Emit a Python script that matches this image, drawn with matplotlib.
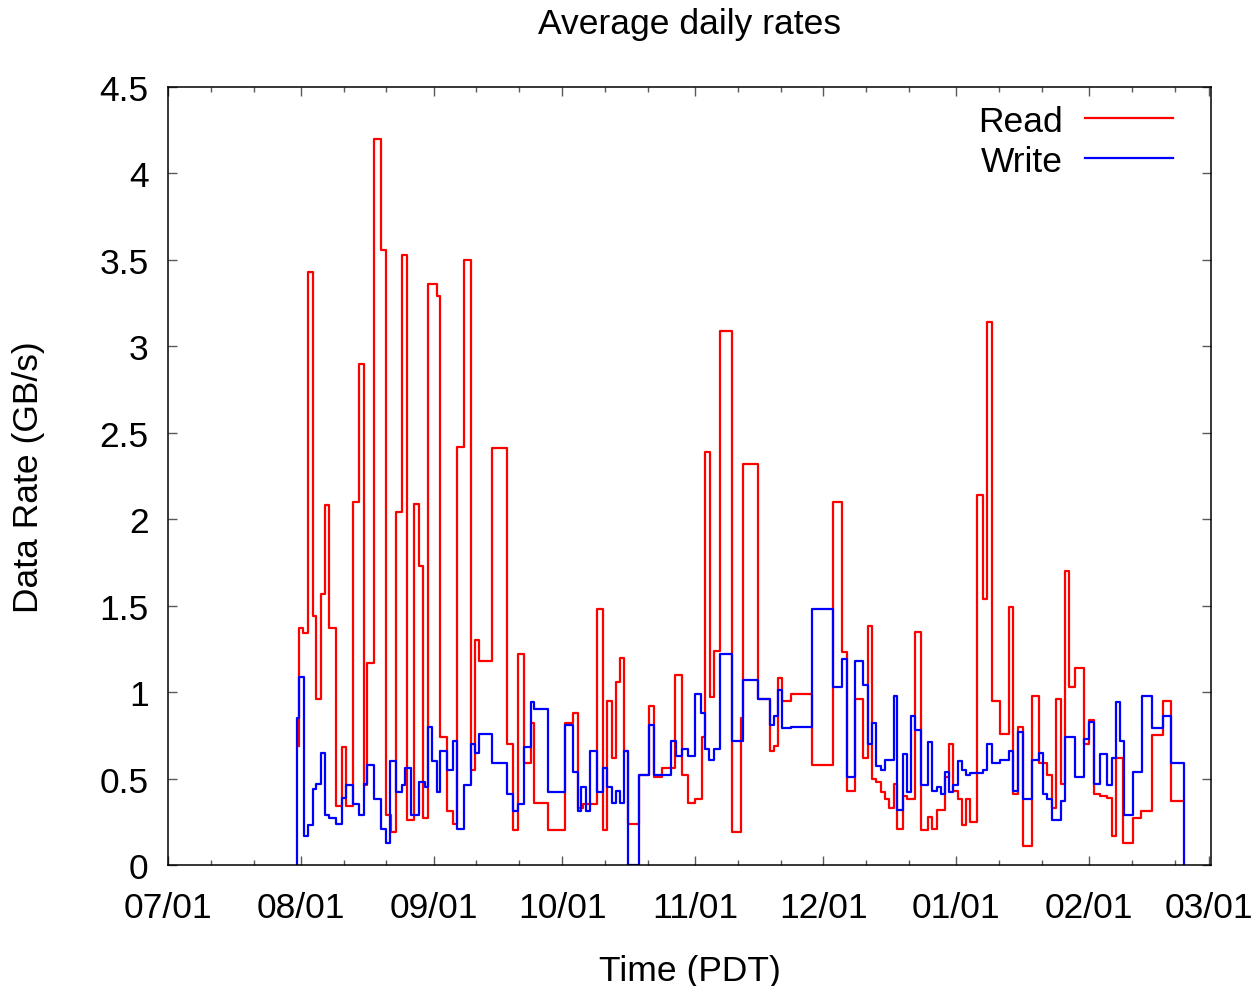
import numpy as np
import matplotlib
matplotlib.use("Agg")
import matplotlib.pyplot as plt
import matplotlib.dates as mdates
import matplotlib.ticker as mticker
from datetime import datetime

# ---- data (days after 07/01, value in GB/s; value holds until next day entry) ----
start_date = datetime(2013, 7, 1)

read_day = [30.50, 30.58, 31.59, 32.60, 33.77, 34.55, 35.71, 36.65, 37.66, 39.14,
            40.69, 41.63, 43.26, 44.58, 45.75, 46.53, 48.09, 49.72, 50.89, 52.05,
            53.22, 54.54, 55.87, 57.50, 58.67, 59.60, 60.77, 62.71, 63.60, 65.05,
            66.60, 67.54, 69.17, 70.73, 71.66, 72.67, 75.71, 79.05, 80.61, 81.62,
            83.18, 84.66, 85.51, 88.78, 92.67, 94.62, 95.63, 96.95, 100.06, 101.46,
            102.40, 103.56, 104.50, 105.51, 106.52, 107.45, 109.94, 112.36, 113.45, 115.39,
            118.35, 119.90, 121.46, 123.02, 124.57, 125.35, 126.52, 127.45, 128.85, 131.73,
            133.68, 134.30, 137.64, 140.52, 141.53, 142.31, 143.40, 145.35, 150.40, 155.31,
            157.25, 158.42, 160.36, 162.31, 163.47, 164.41, 165.27, 166.36, 167.37, 168.38,
            169.47, 170.24, 171.55, 172.42, 174.37, 175.77, 177.33, 178.26, 179.43, 181.37,
            182.38, 183.32, 184.33, 185.26, 186.27, 187.21, 188.92, 190.32, 191.25, 192.27,
            194.21, 196.31, 197.32, 198.33, 199.66, 201.76, 203.31, 205.10, 206.27, 207.21,
            208.45, 209.38, 210.32, 211.72, 213.82, 215.06, 216.23, 217.55, 219.27, 220.28,
            221.22, 223.00, 225.33, 227.12, 229.77, 232.18, 234.05, 237.00]
read_val = [0.69, 1.37, 1.34, 3.43, 1.44, 0.96, 1.57, 2.08, 1.37, 0.34,
            0.68, 0.34, 2.10, 2.90, 0.46, 1.17, 4.20, 3.56, 0.29, 0.19,
            2.04, 3.53, 0.26, 2.09, 1.73, 0.27, 3.36, 3.29, 0.74, 0.31,
            0.24, 2.42, 3.50, 0.55, 1.30, 1.18, 2.41, 0.70, 0.20, 1.22,
            0.59, 0.82, 0.36, 0.20, 0.82, 0.88, 0.33, 0.35, 1.48, 0.20,
            0.95, 0.62, 1.06, 1.20, 0.66, 0.24, 0.52, 0.92, 0.51, 0.56,
            1.10, 0.52, 0.36, 0.38, 0.74, 2.39, 0.97, 1.24, 3.09, 0.19,
            0.85, 2.32, 0.96, 0.66, 0.69, 1.08, 0.95, 0.99, 0.58, 2.10,
            1.23, 0.43, 0.96, 0.62, 1.38, 0.50, 0.48, 0.42, 0.38, 0.33,
            0.47, 0.21, 0.40, 0.38, 1.35, 0.20, 0.28, 0.21, 0.32, 0.51,
            0.70, 0.43, 0.38, 0.23, 0.38, 0.25, 2.14, 1.54, 3.14, 0.95,
            0.76, 1.49, 0.41, 0.80, 0.11, 0.98, 0.59, 0.52, 0.33, 0.96,
            0.47, 1.70, 1.03, 1.14, 0.70, 0.84, 0.41, 0.40, 0.39, 0.17,
            0.62, 0.13, 0.27, 0.31, 0.75, 0.95, 0.37, 0.37]

write_day = [30.19, 30.19, 30.66, 31.82, 32.60, 33.77, 34.55, 35.71, 36.65, 37.66,
             39.14, 40.69, 41.63, 43.26, 44.58, 45.75, 46.53, 48.09, 49.72, 50.89,
             51.82, 53.22, 54.54, 55.32, 56.72, 58.67, 59.99, 60.61, 61.70, 62.71,
             63.60, 65.05, 66.60, 67.54, 69.17, 70.73, 71.66, 72.67, 75.71, 79.05,
             80.61, 81.62, 83.18, 84.66, 85.51, 88.78, 92.67, 94.62, 95.63, 96.41,
             97.49, 98.51, 100.06, 101.46, 102.40, 103.56, 104.50, 105.51, 106.52, 107.45,
             109.94, 112.36, 113.45, 117.41, 118.50, 119.90, 121.46, 123.02, 124.42, 125.35,
             126.36, 127.45, 128.85, 131.73, 134.30, 137.64, 140.52, 141.46, 142.31, 143.40,
             145.35, 150.40, 155.31, 157.25, 158.42, 160.36, 162.31, 163.47, 164.41, 165.27,
             166.36, 167.37, 169.47, 170.24, 171.55, 172.42, 173.44, 174.37, 175.77, 177.33,
             178.26, 179.43, 180.36, 181.37, 182.38, 183.32, 184.33, 185.26, 186.27, 187.21,
             190.17, 191.25, 192.27, 194.21, 196.31, 197.32, 198.33, 199.66, 201.76, 203.31,
             204.33, 205.26, 206.27, 208.45, 209.38, 211.72, 213.82, 215.06, 216.23, 217.55,
             219.27, 220.28, 221.22, 222.22, 223.16, 225.33, 227.28, 229.77, 232.18, 234.05,
             237.24]
write_val = [0.0, 0.85, 1.09, 0.17, 0.23, 0.44, 0.47, 0.65, 0.29, 0.27,
             0.24, 0.39, 0.46, 0.35, 0.29, 0.47, 0.58, 0.38, 0.21, 0.13,
             0.60, 0.42, 0.46, 0.56, 0.29, 0.48, 0.45, 0.80, 0.60, 0.42,
             0.66, 0.55, 0.72, 0.21, 0.46, 0.70, 0.65, 0.76, 0.59, 0.41,
             0.31, 0.35, 0.68, 0.94, 0.90, 0.42, 0.81, 0.54, 0.31, 0.45,
             0.31, 0.66, 0.42, 0.56, 0.45, 0.36, 0.43, 0.36, 0.66, 0.0,
             0.52, 0.81, 0.52, 0.72, 0.63, 0.67, 0.63, 0.99, 0.88, 0.67,
             0.61, 0.67, 1.22, 0.72, 1.07, 0.96, 0.81, 0.86, 1.01, 0.79,
             0.80, 1.48, 1.03, 1.19, 0.51, 1.18, 1.04, 0.70, 0.82, 0.57,
             0.55, 0.61, 0.98, 0.32, 0.64, 0.42, 0.86, 0.78, 0.46, 0.71,
             0.43, 0.45, 0.41, 0.54, 0.42, 0.46, 0.60, 0.55, 0.52, 0.53,
             0.55, 0.70, 0.59, 0.61, 0.66, 0.43, 0.77, 0.38, 0.61, 0.65,
             0.41, 0.38, 0.26, 0.37, 0.74, 0.51, 0.73, 0.83, 0.47, 0.64,
             0.46, 0.62, 0.94, 0.72, 0.29, 0.54, 0.98, 0.79, 0.86, 0.59,
             0.0]

y_ticks = [0, 0.5, 1, 1.5, 2, 2.5, 3, 3.5, 4, 4.5]

# ---- plotting ----
plt.rcParams['font.family'] = ['Liberation Sans', 'DejaVu Sans']
FS = 25.5

fig = plt.figure(figsize=(12.56, 9.87), dpi=100)
ax = fig.add_axes([168/1256, 1-866/987, (1211-168)/1256, (866-88)/987])

base = mdates.date2num(start_date)
rx = base + np.array(read_day)
wx = base + np.array(write_day)

ax.step(rx, read_val, where='post', color='#ff0000', lw=1.6, label='Read')
ax.step(wx, write_val, where='post', color='#0000ff', lw=1.6, label='Write')

ax.set_xlim(base, mdates.date2num(datetime(2014, 3, 1)) + 0.5)
ax.set_ylim(0, 4.5)

ax.xaxis.set_major_locator(mdates.MonthLocator())
ax.xaxis.set_major_formatter(mdates.DateFormatter('%m/%d'))
ax.xaxis.set_minor_locator(mdates.DayLocator(bymonthday=[11, 21]))
ax.set_yticks(y_ticks)
ax.yaxis.set_major_formatter(mticker.FormatStrFormatter('%g'))

ax.tick_params(axis='both', which='both', direction='in', top=True, right=True,
               color='0.35', width=1.0, labelsize=FS)
ax.tick_params(axis='both', which='major', length=6.5)
ax.tick_params(axis='both', which='minor', length=3.3)
ax.tick_params(axis='x', which='major', pad=19)
ax.tick_params(axis='y', which='major', pad=14)

for s in ax.spines.values():
    s.set_linewidth(1.1)
    s.set_color('black')

ax.set_title('Average daily rates', fontsize=FS, pad=39)
ax.set_xlabel('Time (PDT)', fontsize=FS, labelpad=21)
ax.set_ylabel('Data Rate (GB/s)', fontsize=FS, labelpad=39)

ax.legend(loc='upper right', bbox_to_anchor=(0.9633, 0.977), frameon=False,
          markerfirst=False, fontsize=FS, handlelength=2.48, handletextpad=0.62,
          labelspacing=0.19, borderpad=0, borderaxespad=0)

fig.savefig('out.png', dpi=100)
